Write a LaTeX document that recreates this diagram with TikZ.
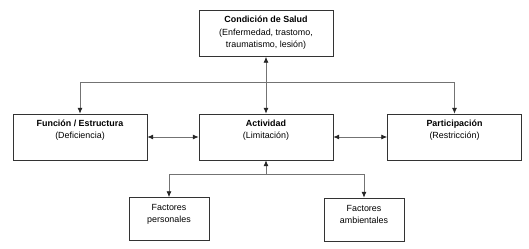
\documentclass[tikz,border=0pt]{standalone}
\usepackage{fontspec}
\setmainfont{Liberation Sans}
\usetikzlibrary{positioning, arrows.meta, calc}

\begin{document}
\begin{tikzpicture}[
        x=0.03cm, y=-0.03cm,
        font=\fontsize{7.6}{10.6}\selectfont,
        % Styles for the boxes and links
        bigbox/.style={
            rectangle, draw=black!80, line width=0.6pt, fill=white,
            minimum width=4.02cm, minimum height=1.38cm, inner sep=0pt
        },
        smallbox/.style={
            rectangle, draw=black!80, line width=0.6pt, fill=white,
            minimum width=2.4cm, minimum height=1.29cm, inner sep=0pt
        },
        caption/.style={
            anchor=north, align=center, inner sep=0pt
        },
        link/.style={
            draw=black!55, line width=0.7pt
        },
        tip/.style={-{Latex[length=5pt,width=4.4pt,black!85]}},
        twotips/.style={{Latex[length=5pt,width=4.4pt,black!85]}-{Latex[length=5pt,width=4.4pt,black!85]}}
    ]

    \useasboundingbox (0,0) rectangle (529,248);

    % 1. HEALTH CONDITION
    \node[bigbox] (salud) at (266, 33.5) {};
    \node[caption] (saludtxt) at ($(salud.north)+(0,6)$)
        {\textbf{Condición de Salud}\\(Enfermedad, trastomo,\\traumatismo, lesión)};

    % 2. MIDDLE ROW
    \node[bigbox] (funcion)   at (80, 137) {};
    \node[bigbox] (actividad) at (266, 137) {};
    \node[bigbox] (particip)  at (454.5, 137) {};
    \node[caption] (funciontxt)   at ($(funcion.north)+(0,6)$)   {\textbf{Función / Estructura}\\(Deficiencia)};
    \node[caption] (actividadtxt) at ($(actividad.north)+(0,6)$) {\textbf{Actividad}\\(Limitación)};
    \node[caption] (partiptxt)    at ($(particip.north)+(0,6)$)  {\textbf{Participación}\\(Restricción)};

    % 3. CONTEXT FACTORS
    \node[smallbox] (personales)  at (169, 219) {};
    \node[smallbox] (ambientales) at (364, 219.5) {};
    \node[caption] (personalestxt)  at ($(personales.north)+(0,7)$)  {Factores\\personales};
    \node[caption] (ambientalestxt) at ($(ambientales.north)+(0,7)$) {Factores\\ambientales};

    % 4. LINKS
    \coordinate (topbus) at (266, 82);
    \coordinate (lowbus) at (266, 174);

    \draw[link, twotips] (salud.south) -- (actividad.north);
    \draw[link, tip] (topbus) -| (funcion.north);
    \draw[link, tip] (topbus) -| (particip.north);

    \draw[link, twotips] (funcion.east) -- (actividad.west);
    \draw[link, twotips] (actividad.east) -- (particip.west);

    \draw[link, tip] (lowbus) -- (actividad.south);
    \draw[link, tip] (lowbus) -| (personales.north);
    \draw[link, tip] (lowbus) -| (ambientales.north);

\end{tikzpicture}
\end{document}
